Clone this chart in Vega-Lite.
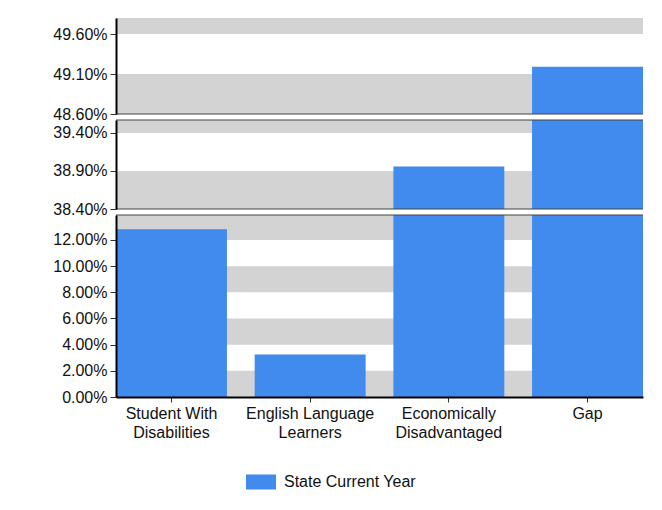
{
  "$schema": "https://vega.github.io/schema/vega-lite/v6.json",
  "padding": {"left": 52, "top": 18, "right": 18, "bottom": 5},
  "background": "white",
  "spacing": 6,
  "bounds": "flush",
  "config": {
    "font": "Liberation Sans",
    "view": {"stroke": null},
    "axisY": {
      "labelExpr": "format(datum.value, '.2f') + '%'",
      "domainColor": "#000000",
      "domainWidth": 2,
      "tickColor": "#333333",
      "tickSize": 6,
      "labelPadding": 3,
      "labelFontSize": 16,
      "labelColor": "#111111",
      "labelOverlap": false,
      "labelBound": false,
      "grid": false,
      "title": null
    }
  },
  "datasets": {
    "bars": [
      {"group": "Student With Disabilities", "value": 12.82, "series": "State Current Year"},
      {"group": "English Language Learners", "value": 3.25, "series": "State Current Year"},
      {"group": "Economically Disadvantaged", "value": 38.96, "series": "State Current Year"},
      {"group": "Gap", "value": 49.19, "series": "State Current Year"}
    ],
    "bands": [
      {"panel": "top", "value": 48.6, "value2": 49.1},
      {"panel": "top", "value": 49.6, "value2": 49.8},
      {"panel": "mid", "value": 38.4, "value2": 38.9},
      {"panel": "mid", "value": 39.4, "value2": 39.571},
      {"panel": "bottom", "value": 0, "value2": 2},
      {"panel": "bottom", "value": 4, "value2": 6},
      {"panel": "bottom", "value": 8, "value2": 10},
      {"panel": "bottom", "value": 12, "value2": 13.91}
    ],
    "edges": [
      {"panel": "top", "value": 48.6},
      {"panel": "mid", "value": 39.571},
      {"panel": "mid", "value": 38.4},
      {"panel": "bottom", "value": 13.91}
    ]
  },
  "resolve": {"scale": {"y": "independent", "x": "shared", "color": "shared"}},
  "vconcat": [
    {
      "width": 527,
      "height": 96,
      "encoding": {
        "y": {"field": "value", "type": "quantitative", "scale": {"domain": [48.6, 49.8], "nice": false, "zero": false}, "axis": {"values": [48.6, 49.1, 49.6], "zindex": 1}}
      },
      "layer": [
        {
          "data": {"name": "bands"},
          "transform": [{"filter": "datum.panel === 'top'"}],
          "mark": {"type": "rect", "color": "#d3d3d3", "clip": true},
          "encoding": {"y2": {"field": "value2"}}
        },
        {
          "data": {"name": "bars"},
          "mark": {"type": "bar", "clip": true},
          "encoding": {
            "x": {"field": "group", "type": "nominal", "sort": null, "scale": {"paddingInner": 0.2, "paddingOuter": 0}, "axis": null},
            "color": {"field": "series", "type": "nominal", "scale": {"range": ["#418AEE"]}}
          }
        },
        {
          "data": {"name": "edges"},
          "transform": [{"filter": "datum.panel === 'top'"}],
          "mark": {"type": "rule", "color": "#444444", "strokeWidth": 1.2},
          "encoding": {}
        }
      ]
    },
    {
      "width": 527,
      "height": 89,
      "encoding": {
        "y": {"field": "value", "type": "quantitative", "scale": {"domain": [38.4, 39.571], "nice": false, "zero": false}, "axis": {"values": [38.4, 38.9, 39.4], "zindex": 1}}
      },
      "layer": [
        {
          "data": {"name": "bands"},
          "transform": [{"filter": "datum.panel === 'mid'"}],
          "mark": {"type": "rect", "color": "#d3d3d3", "clip": true},
          "encoding": {"y2": {"field": "value2"}}
        },
        {
          "data": {"name": "bars"},
          "mark": {"type": "bar", "clip": true},
          "encoding": {
            "x": {"field": "group", "type": "nominal", "sort": null, "scale": {"paddingInner": 0.2, "paddingOuter": 0}, "axis": null},
            "color": {"field": "series", "type": "nominal", "scale": {"range": ["#418AEE"]}}
          }
        },
        {
          "data": {"name": "edges"},
          "transform": [{"filter": "datum.panel === 'mid'"}],
          "mark": {"type": "rule", "color": "#444444", "strokeWidth": 1.2},
          "encoding": {}
        }
      ]
    },
    {
      "width": 527,
      "height": 182,
      "encoding": {
        "y": {"field": "value", "type": "quantitative", "scale": {"domain": [0, 13.91], "nice": false}, "axis": {"values": [0, 2, 4, 6, 8, 10, 12], "zindex": 1}}
      },
      "layer": [
        {
          "data": {"name": "bands"},
          "transform": [{"filter": "datum.panel === 'bottom'"}],
          "mark": {"type": "rect", "color": "#d3d3d3", "clip": true},
          "encoding": {"y2": {"field": "value2"}}
        },
        {
          "data": {"name": "bars"},
          "mark": {"type": "bar", "clip": true},
          "encoding": {
            "x": {
              "field": "group", "type": "nominal", "sort": null,
              "scale": {"paddingInner": 0.2, "paddingOuter": 0},
              "axis": {
                "title": null,
                "labelAngle": 0,
                "labelExpr": "lastindexof(datum.value, ' ') > 0 ? [substring(datum.value, 0, lastindexof(datum.value, ' ')), substring(datum.value, lastindexof(datum.value, ' ') + 1)] : datum.value",
                "domainColor": "#000000",
                "domainWidth": 2,
                "tickColor": "#333333",
                "tickSize": 5,
                "labelPadding": 3,
                "labelFontSize": 16,
                "labelColor": "#111111",
                "labelLineHeight": 19,
                "zindex": 1
              }
            },
            "color": {
              "field": "series", "type": "nominal",
              "scale": {"range": ["#418AEE"]},
              "legend": {
                "title": null,
                "orient": "none",
                "legendX": 130,
                "legendY": 449,
                "symbolType": "M-1,-0.5H1V0.5H-1Z",
                "symbolSize": 900,
                "symbolStrokeWidth": 0,
                "symbolOpacity": 1,
                "labelFontSize": 16,
                "labelColor": "#111111",
                "labelOffset": 8
              }
            }
          }
        },
        {
          "data": {"name": "edges"},
          "transform": [{"filter": "datum.panel === 'bottom'"}],
          "mark": {"type": "rule", "color": "#444444", "strokeWidth": 1.2},
          "encoding": {}
        }
      ]
    }
  ]
}
